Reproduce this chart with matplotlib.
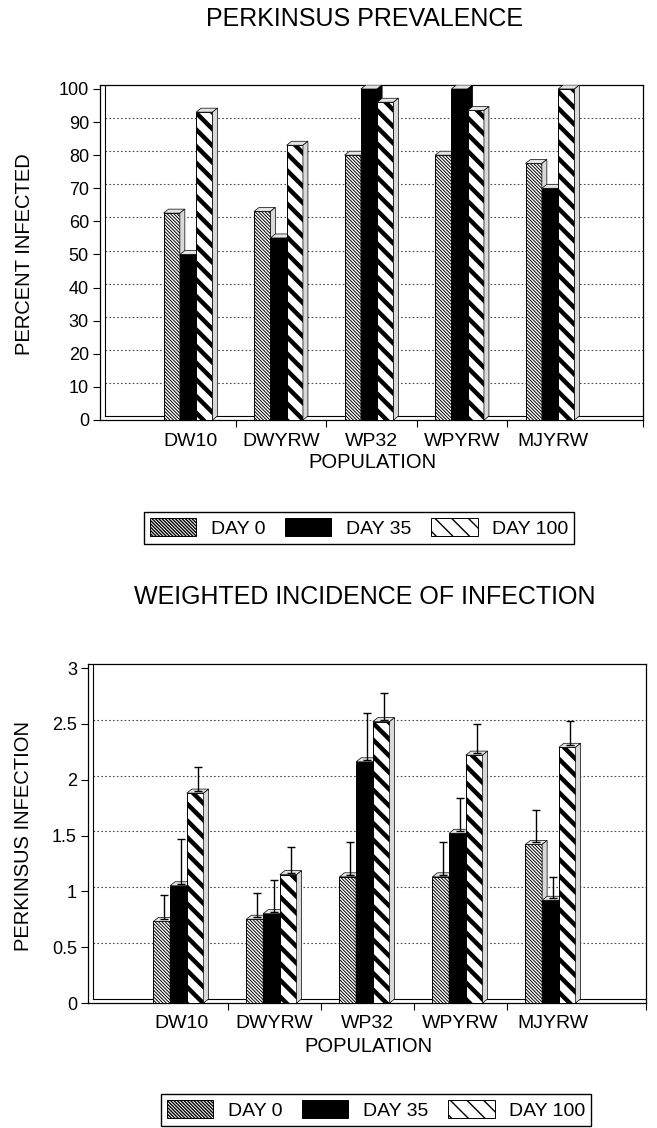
import matplotlib.pyplot as plt
from matplotlib.patches import Patch
import numpy as np

plt.rcParams['font.family'] = ['Liberation Sans', 'DejaVu Sans']

# Data
populations = ['DW10', 'DWYRW', 'WP32', 'WPYRW', 'MJYRW']
days = ['DAY 0', 'DAY 35', 'DAY 100']

prev_day0 = [62.5, 63, 80, 80, 77.5]
prev_day35 = [50, 55, 100, 100, 70]
prev_day100 = [93, 83, 96, 93.5, 100]

inc_day0 = [0.73, 0.75, 1.13, 1.13, 1.42]
inc_day35 = [1.05, 0.80, 2.16, 1.52, 0.92]
inc_day100 = [1.88, 1.15, 2.52, 2.22, 2.29]
inc_se_day0 = [0.22, 0.22, 0.29, 0.29, 0.29]
inc_se_day35 = [0.40, 0.28, 0.42, 0.30, 0.19]
inc_se_day100 = [0.22, 0.23, 0.24, 0.26, 0.22]

# Bar styles per day
faces = ['white', 'black', 'white']
sides = ['#d9d9d9', 'black', '#d9d9d9']
hatches = ['\\' * 10, None, '\\\\']
hatch_lws = [0.7, 1.0, 3.2]


def panel(ax, series, ymax, step, dx, dy, errs=None):
    x = np.arange(1, len(populations) + 1)
    w = 0.18
    left = x - (3 * w + dx) / 2
    for k, vals in enumerate(series):
        xl = left + k * w
        with plt.rc_context({'hatch.linewidth': hatch_lws[k]}):
            ax.bar(xl, vals, w, align='edge', color=faces[k], edgecolor='k',
                   hatch=hatches[k], lw=0.7, zorder=3 + k)
        # 3D top and side faces
        for xi, v in zip(xl, vals):
            ax.fill([xi, xi + dx, xi + w + dx, xi + w], [v, v + dy, v + dy, v],
                    fc='#e4e4e4', ec='k', lw=0.5, zorder=3 + k)
            ax.fill([xi + w, xi + w + dx, xi + w + dx, xi + w], [0, dy, v + dy, v],
                    fc=sides[k], ec='k', lw=0.5, zorder=3 + k)
        if errs is not None:
            ax.errorbar(xl + w / 2 + dx / 2, np.array(vals) + dy / 2,
                        yerr=[np.zeros(len(vals)), errs[k]], fmt='none',
                        ecolor='k', elinewidth=1, capsize=3, capthick=1, zorder=10)

    ticks = np.arange(0, ymax + step / 2, step)
    ax.set_xlim(0, 6)
    ax.set_ylim(0, ymax + dy)
    ax.set_yticks(ticks, ['%g' % t for t in ticks])
    ax.tick_params(axis='y', direction='out', length=5, width=0.8, pad=3, labelsize=13)

    # Gridlines on the back wall
    ax.hlines(ticks[1:-1] + dy, dx, 6, colors='0.3', linestyles=(0, (1.5, 2)), lw=0.8, zorder=1)
    # Wall / floor depth lines
    ax.plot([dx, dx], [dy, ymax + dy], 'k', lw=0.8, zorder=2)
    ax.plot([dx, 6], [dy, dy], 'k', lw=0.8, zorder=2)

    ax.set_xticks(x, populations)
    ax.set_xticks([1.5, 2.5, 3.5, 4.5, 6], minor=True)
    ax.tick_params(axis='x', which='major', length=0, pad=9, labelsize=14)
    ax.tick_params(axis='x', which='minor', direction='out', length=5, width=0.8)
    for s in ax.spines.values():
        s.set_linewidth(0.9)


def legend_handles():
    handles = []
    for k in range(3):
        with plt.rc_context({'hatch.linewidth': hatch_lws[k]}):
            handles.append(Patch(facecolor=faces[k], edgecolor='k', hatch=hatches[k], lw=0.7))
    return handles


fig = plt.figure(figsize=(6.57, 11.28), dpi=100)

# Top: prevalence
ax1 = fig.add_axes([100/657, 1-420/1128, 543/657, 335/1128])
panel(ax1, [prev_day0, prev_day35, prev_day100], 100, 10, 0.055, 1.2)
fig.text(365/657, 1-19/1128, 'PERKINSUS PREVALENCE', ha='center', va='center', fontsize=18)
fig.text(25/657, 1-254/1128, 'PERCENT INFECTED', ha='center', va='center', rotation=90, fontsize=14.5)
fig.text(372/657, 1-462/1128, 'POPULATION', ha='center', va='center', fontsize=14.5)
fig.legend(legend_handles(), days, loc='center', bbox_to_anchor=(359/657, 1-528/1128), ncol=3,
           fontsize=14, handlelength=2.4, handleheight=1.05, handletextpad=0.75, columnspacing=1.0,
           fancybox=False, edgecolor='k', framealpha=1, borderpad=0.3)

# Bottom: weighted incidence
ax2 = fig.add_axes([88/657, 1-1003/1128, 558/657, 339/1128])
panel(ax2, [inc_day0, inc_day35, inc_day100], 3, 0.5, 0.054, 0.036,
      errs=[inc_se_day0, inc_se_day35, inc_se_day100])
fig.text(365/657, 1-597/1128, 'WEIGHTED INCIDENCE OF INFECTION', ha='center', va='center', fontsize=18)
fig.text(24/657, 1-836/1128, 'PERKINSUS INFECTION', ha='center', va='center', rotation=90, fontsize=14.5)
fig.text(368/657, 1-1046/1128, 'POPULATION', ha='center', va='center', fontsize=14.5)
fig.legend(legend_handles(), days, loc='center', bbox_to_anchor=(376/657, 1-1110/1128), ncol=3,
           fontsize=14, handlelength=2.4, handleheight=1.05, handletextpad=0.75, columnspacing=1.0,
           fancybox=False, edgecolor='k', framealpha=1, borderpad=0.3)

fig.savefig('out.png', dpi=100)
plt.close()
